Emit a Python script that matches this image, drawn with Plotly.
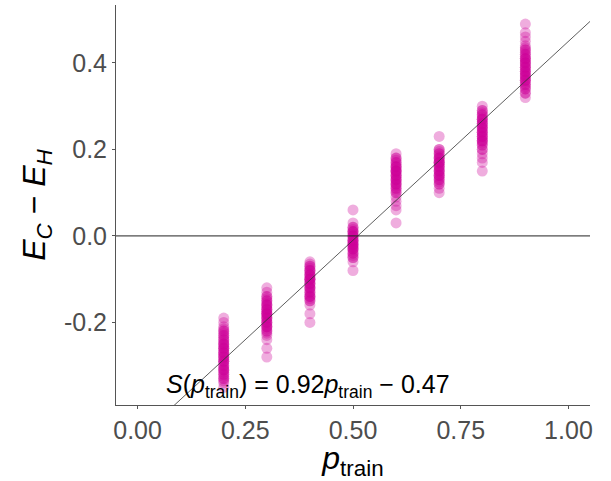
import plotly.graph_objects as go

# E_C - E_H values, one list per p_train value
p_train = [0.2, 0.3, 0.4, 0.5, 0.6, 0.7, 0.8, 0.9]
diffs = [
    [-0.19, -0.20, -0.21, -0.215, -0.22, -0.225, -0.23, -0.235, -0.24, -0.245, -0.25, -0.255,
     -0.26, -0.265, -0.27, -0.275, -0.28, -0.285, -0.29, -0.295, -0.30, -0.305, -0.31, -0.315,
     -0.32, -0.325, -0.33, -0.335, -0.34, -0.35, -0.25, -0.27, -0.29, -0.31, -0.26, -0.28,
     -0.22, -0.24, -0.26, -0.28, -0.30, -0.32, -0.23, -0.25, -0.27, -0.29, -0.31, -0.33],
    [-0.12, -0.13, -0.14, -0.145, -0.15, -0.155, -0.16, -0.165, -0.17, -0.175, -0.18, -0.185,
     -0.19, -0.195, -0.20, -0.205, -0.21, -0.215, -0.22, -0.225, -0.23, -0.24, -0.26, -0.28,
     -0.17, -0.19, -0.21, -0.18, -0.20, -0.14, -0.15, -0.16, -0.17, -0.18, -0.19, -0.20,
     -0.21, -0.22, -0.16, -0.18],
    [-0.06, -0.065, -0.07, -0.075, -0.08, -0.085, -0.09, -0.095, -0.10, -0.105, -0.11, -0.115,
     -0.12, -0.125, -0.13, -0.135, -0.14, -0.145, -0.15, -0.16, -0.18, -0.20,
     -0.08, -0.10, -0.12, -0.14, -0.09, -0.11, -0.07, -0.08, -0.09, -0.10, -0.11, -0.12,
     -0.13, -0.14, -0.15, -0.10],
    [0.06, 0.03, 0.02, 0.015, 0.01, 0.005, 0.00, -0.005, -0.01, -0.015, -0.02, -0.025, -0.03,
     -0.035, -0.04, -0.045, -0.05, -0.06, -0.08, -0.01, -0.02, -0.03, 0.00, 0.01,
     0.02, 0.01, 0.00, -0.01, -0.02, -0.03, -0.04, -0.05, -0.015, -0.025],
    [0.19, 0.18, 0.175, 0.17, 0.165, 0.16, 0.155, 0.15, 0.145, 0.14, 0.135, 0.13, 0.125, 0.12,
     0.115, 0.11, 0.105, 0.10, 0.09, 0.08, 0.07, 0.06, 0.03, 0.14, 0.15, 0.16, 0.12, 0.13,
     0.18, 0.17, 0.16, 0.15, 0.14, 0.13, 0.12, 0.11, 0.10, 0.15],
    [0.23, 0.20, 0.195, 0.19, 0.185, 0.18, 0.175, 0.17, 0.165, 0.16, 0.155, 0.15, 0.145, 0.14,
     0.135, 0.13, 0.125, 0.12, 0.11, 0.10, 0.17, 0.16, 0.15, 0.18, 0.14,
     0.20, 0.19, 0.18, 0.17, 0.16, 0.15, 0.14, 0.13, 0.12, 0.17],
    [0.30, 0.29, 0.285, 0.28, 0.275, 0.27, 0.265, 0.26, 0.255, 0.25, 0.245, 0.24, 0.235, 0.23,
     0.225, 0.22, 0.215, 0.21, 0.20, 0.19, 0.18, 0.17, 0.15, 0.26, 0.24, 0.22, 0.25, 0.23,
     0.29, 0.28, 0.27, 0.26, 0.25, 0.24, 0.23, 0.22, 0.21, 0.20, 0.27],
    [0.49, 0.47, 0.46, 0.45, 0.44, 0.435, 0.43, 0.425, 0.42, 0.415, 0.41, 0.405, 0.40, 0.395,
     0.39, 0.385, 0.38, 0.375, 0.37, 0.365, 0.36, 0.355, 0.35, 0.345, 0.34, 0.33, 0.32,
     0.40, 0.38, 0.36, 0.39, 0.37, 0.41, 0.42, 0.41, 0.40, 0.39, 0.38, 0.37, 0.36, 0.35,
     0.34, 0.43, 0.33],
]

# fitted line S(p) = slope * p + intercept
slope = 0.92
intercept = -0.47

x_ticks = [0.0, 0.25, 0.5, 0.75, 1.0]
x_tick_labels = ["0.00", "0.25", "0.50", "0.75", "1.00"]
y_ticks = [-0.2, 0.0, 0.2, 0.4]
y_tick_labels = ["-0.2", "0.0", "0.2", "0.4"]
x_range = [-0.05, 1.05]
y_range = [-0.391, 0.534]

xs, ys = [], []
for p, vals in zip(p_train, diffs):
    xs += [p] * len(vals)
    ys += vals

fig = go.Figure()

fig.add_trace(go.Scatter(
    x=xs, y=ys, mode="markers",
    marker=dict(size=11, color="rgba(204,0,153,0.32)", line=dict(width=0)),
    showlegend=False,
))

fig.add_trace(go.Scatter(
    x=x_range, y=[slope * x + intercept for x in x_range],
    mode="lines", line=dict(color="#333333", width=0.8),
    showlegend=False,
))

fig.add_shape(type="line", xref="paper", yref="y", x0=0, x1=1, y0=0, y1=0,
              line=dict(color="#222222", width=1))

fig.add_annotation(
    x=0.395, y=-0.347, xref="x", yref="y",
    text="<i>S</i>(<i>p</i><sub>train</sub>) = 0.92<i>p</i><sub>train</sub> − 0.47",
    showarrow=False, font=dict(size=25, color="black"),
)

axis_style = dict(
    showgrid=False, zeroline=False, showline=True, linecolor="#555555", linewidth=1,
    ticks="outside", ticklen=3, tickcolor="#555555", automargin=False,
    tickfont=dict(size=25, color="#4d4d4d"),
)

fig.update_layout(
    width=611, height=481,
    margin=dict(l=116, r=21, t=5, b=76),
    plot_bgcolor="white", paper_bgcolor="white",
    font=dict(family="Liberation Sans, Arial, sans-serif"),
    xaxis=dict(range=x_range, tickvals=x_ticks, ticktext=x_tick_labels,
               title=dict(text="<i>p</i><sub>train</sub>", font=dict(size=32, color="black"), standoff=4),
               **axis_style),
    yaxis=dict(range=y_range, tickvals=y_ticks, ticktext=y_tick_labels,
               title=dict(text="<i>E</i><sub><i>C</i></sub> − <i>E</i><sub><i>H</i></sub>",
                          font=dict(size=32, color="black"), standoff=8),
               **axis_style),
)

# drop the browser's default body margin so the figure sits at the page corner
fig.write_html("out.html", config={"displayModeBar": False},
               post_script="document.body.style.margin='0';")
